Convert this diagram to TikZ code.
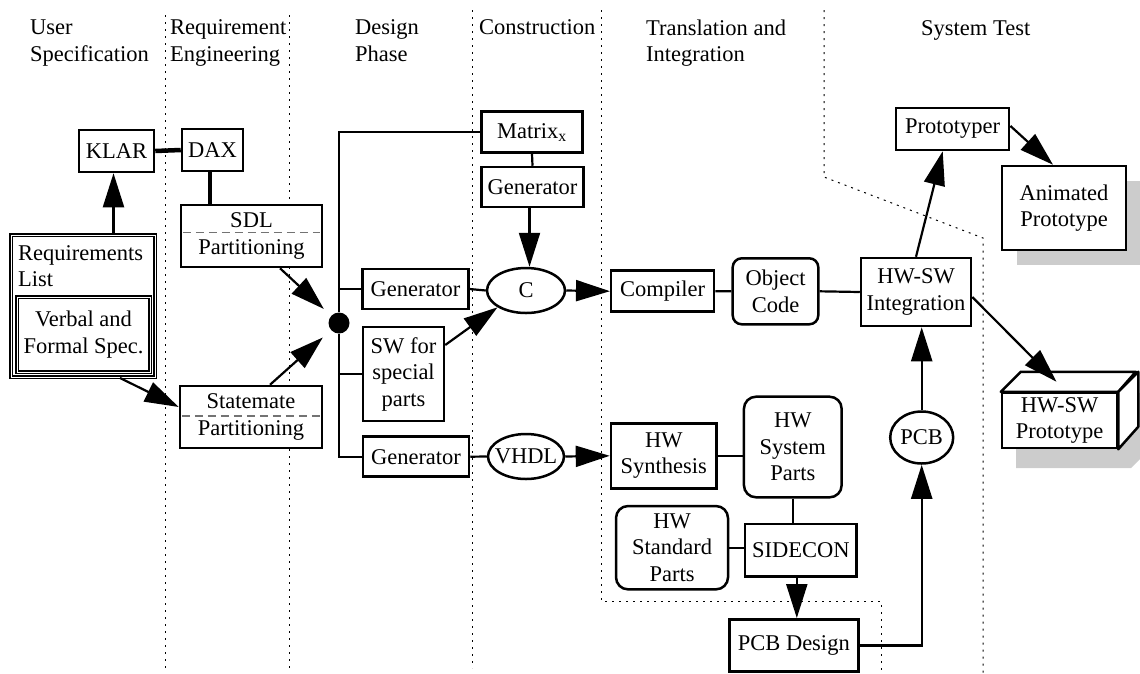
\documentclass[tikz,border=0pt]{standalone}
\usepackage{fontspec}
\setmainfont{Liberation Serif}
\usetikzlibrary{arrows.meta,shapes.geometric}
% zero-width text so an ellipse keeps its given size
\newcommand{\zw}[1]{\makebox[0pt]{#1}}

\begin{document}
\begin{tikzpicture}[x=1pt,y=-1pt,
  font=\fontsize{22.5}{26.5}\selectfont,
  box/.style={draw, fill=white, line width=2.5pt, inner sep=0pt, align=center},
  rbox/.style={box, rounded corners=9pt},
  dbox/.style={draw, fill=white, double, double distance=0.8pt, line width=1.9pt, inner sep=0pt},
  oval/.style={draw, fill=white, ellipse, line width=2.5pt, inner sep=0pt},
  conn/.style={line width=2.2pt},
  arr/.style={conn, -{Triangle[length=34pt,width=21pt]}},
  heavy/.style={line width=4.5pt},
  lane/.style={line width=1pt, dash pattern=on 2pt off 5pt},
  sepline/.style={black!55, line width=1.2pt, dash pattern=on 8pt off 5pt},
  shade/.style={fill=black!20, draw=none},
  head/.style={anchor=north west, inner sep=0pt, align=left}]

\useasboundingbox (0,0) rectangle (1140,673);

% phase headings
\node[head] (h1) at (30,20) {User\\Specification};
\node[head] (h2) at (170,19.5) {Requirement\\Engineering};
\node[head] (h3) at (355,19.5) {Design\\Phase};
\node[head] (h4) at (479,19.5) {Construction};
\node[head] (h5) at (646,19.5) {Translation and\\Integration};
\node[head] (h6) at (921,20) {System Test};

% phase boundaries
\draw[lane] (165,15) -- (165,668);
\draw[lane] (289,15) -- (289,668);
\draw[lane] (472,10) -- (472,668);
\draw[lane] (601,10) -- (601,601) -- (881,601) -- (881,673);
\draw[lane] (824,10) -- (824,177) -- (983,238) -- (983,673);

% shadows
\fill[shade] (1017,181) rectangle (1141,265);
\fill[shade] (1016,413) -- (1036,393) -- (1151,393) -- (1151,448) -- (1131,468) -- (1016,468) -- cycle;

% user specification
\node[dbox, minimum width=144pt, minimum height=142pt] (req) at (83,306) {};
\node[head] (reqtxt) at (18,245) {Requirements\\List};
\node[dbox, align=center, minimum width=133pt, minimum height=75pt] (verb) at (83.5,334.5) {Verbal and\\Formal Spec.};
\node[box, minimum width=75pt, minimum height=42pt] (klar) at (116.5,151) {KLAR};

% requirement engineering
\node[box, minimum width=61pt, minimum height=42pt] (dax) at (212.5,150) {DAX};
\node[box, minimum width=141pt, minimum height=62pt] (sdl) at (251.5,236) {SDL\\Partitioning};
\node[box, minimum width=142pt, minimum height=62pt] (stm) at (251,417) {Statemate\\Partitioning};
\draw[sepline] ([xshift=3pt,yshift=3.3pt]sdl.west) -- ([xshift=-3pt,yshift=3.3pt]sdl.east);
\draw[sepline] ([xshift=3pt,yshift=1pt]stm.west) -- ([xshift=-3pt,yshift=1pt]stm.east);

% design phase
\node[circle, fill, inner sep=0pt, minimum size=21pt] (junc) at (339,323) {};
\node[box, minimum width=105.6pt, minimum height=40pt] (gena) at (415.5,289) {Generator};
\node[box, minimum width=81pt, minimum height=94pt] (sw) at (403.5,374) {SW for\\special\\parts};
\node[box, minimum width=106pt, minimum height=40pt] (genc) at (416,456.7) {Generator};

% construction
\node[box, minimum width=100.6pt, minimum height=41pt] (matx) at (532,132.2) {Matrix\textsubscript{x}};
\node[box, minimum width=101.6pt, minimum height=40pt] (gent) at (532.5,187) {Generator};
\node[oval, minimum width=78pt, minimum height=45pt] (c) at (526,290.5) {\zw{C}};
\node[oval, minimum width=76pt, minimum height=45pt] (vhdl) at (526,456.5) {\zw{VHDL}};

% translation and integration
\node[box, minimum width=103pt, minimum height=41pt] (comp) at (662.7,291.2) {Compiler};
\node[rbox, minimum width=85.6pt, minimum height=66pt] (obj) at (775.5,291.3) {Object\\Code};
\node[box, minimum width=105.7pt, minimum height=65pt] (hws) at (663.8,455.8) {HW\\Synthesis};
\node[rbox, rounded corners=12pt, minimum width=97.7pt, minimum height=100.6pt] (hwsp) at (792.8,447) {HW\\System\\Parts};
\node[rbox, rounded corners=12pt, minimum width=112pt, minimum height=83.3pt] (hwstd) at (672,547.7) {HW\\Standard\\Parts};
\node[box, minimum width=111.7pt, minimum height=52.7pt] (side) at (800.8,550.3) {SIDECON};
\node[box, minimum width=129pt, minimum height=52.4pt] (pcbd) at (793.8,645.5) {PCB Design};

% system test
\node[box, minimum width=110pt, minimum height=68pt] (integ) at (916,292) {HW-SW\\Integration};
\node[oval, minimum width=63pt, minimum height=52pt] (pcb) at (921.7,437.5) {\zw{PCB}};
\node[box, minimum width=113pt, minimum height=42pt] (proto) at (952.7,129) {Prototyper};
\node[box, minimum width=124pt, minimum height=84pt] (anim) at (1064,208) {Animated\\Prototype};
\node[box, minimum width=115pt, minimum height=55pt] (hwp) at (1059.5,420.5) {HW-SW\\Prototype};
\draw[line width=2.5pt, line join=round, fill=white] (hwp.north west) -- ++(20,-20) -- ++(115,0) -- (hwp.north east) -- cycle;
\draw[line width=2.5pt, line join=round, fill=white] (hwp.north east) -- ++(20,-20) -- ++(0,55) -- (hwp.south east) -- cycle;

% connectors
\draw[heavy] (klar.east) -- (dax.west);
\draw[heavy] ([xshift=-2.5pt]dax.south) -- ([xshift=-2.5pt]dax.south |- sdl.north);
\draw[arr] ([xshift=-3pt]req.north -| klar.south) -- ([xshift=-3pt]klar.south);
\draw[arr] ([xshift=37pt]req.south) -- ([yshift=10pt]stm.west);
\draw[arr, shorten >=10pt] ([xshift=28.5pt]sdl.south) -- (junc);
\draw[arr, shorten >=11pt] ([xshift=19pt]stm.north) -- (junc);

\draw[conn] (matx.west) -| (junc);
\draw[conn] (junc) |- (genc.west);
\draw[conn] (gena.west) -- (gena.west -| junc);
\draw[conn] (sw.west) -- (sw.west -| junc);

\draw[conn] (matx.south) -- (gent.north);
\draw[arr] ([xshift=-3pt]gent.south) -- ([xshift=-3pt]gent.south |- c.north);
\draw[conn] (gena.east) -- (c.west);
\draw[arr] ([yshift=29pt]sw.east) -- (c.south west);
\draw[conn] (genc.east) -- (vhdl.west);

\draw[arr] (c.east) -- (comp.west);
\draw[conn] (comp.east) -- (obj.west);
\draw[conn] (obj.east) -- (integ.west);
\draw[arr] (vhdl.east) -- (hws.west);
\draw[conn] (hws.east) -- (hws.east -| hwsp.west);
\draw[conn] (hwsp.south) -- (hwsp.south |- side.north);
\draw[conn] (hwstd.east) -- (hwstd.east -| side.west);
\draw[arr] ([xshift=-4pt]side.south) -- ([xshift=-4pt]side.south |- pcbd.north);
\draw[arr] (pcbd.east) -| (pcb.south);
\draw[arr] (pcb.north) -- (pcb.north |- integ.south);

\draw[arr] (integ.north) -- ([xshift=-10pt]proto.south);
\draw[arr] ([yshift=3pt]proto.east) -- ([xshift=-11pt]anim.north);
\draw[arr] ([yshift=-5pt]integ.east) -- ([xshift=-3pt,yshift=10pt]hwp.north);

\end{tikzpicture}
\end{document}
